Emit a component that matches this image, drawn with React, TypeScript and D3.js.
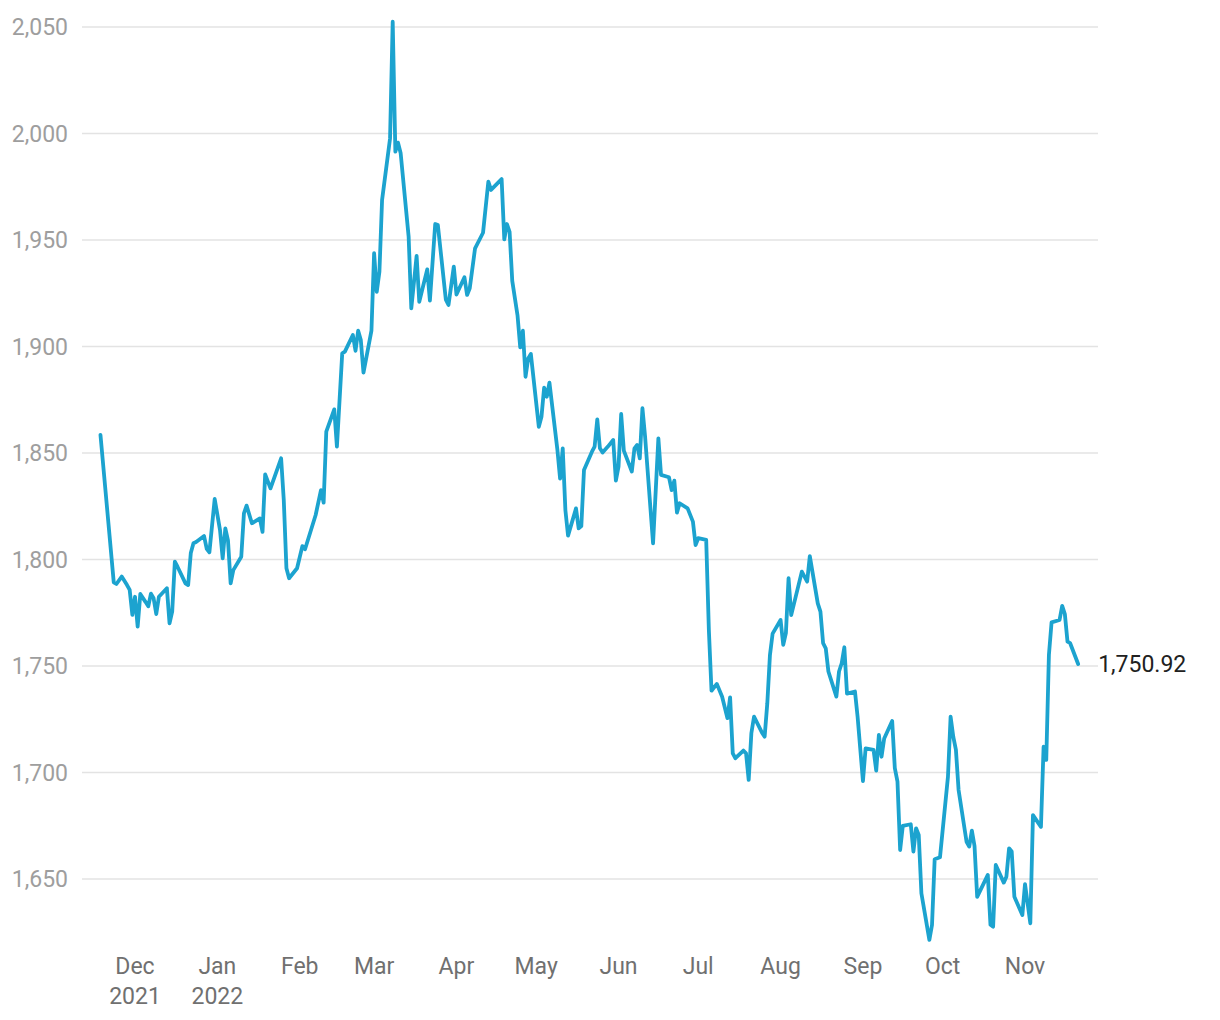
import React from 'react';
import * as d3 from 'd3';

// daily gold price
const late2021: [string, number][] = [
  ['2021-11-18', 1858.5], ['2021-11-23', 1789.3], ['2021-11-24', 1788.5], ['2021-11-26', 1792],
  ['2021-11-28', 1788], ['2021-11-29', 1785.7], ['2021-11-30', 1774], ['2021-12-01', 1782.5],
  ['2021-12-02', 1768.5], ['2021-12-03', 1783.8], ['2021-12-05', 1780], ['2021-12-06', 1778],
  ['2021-12-07', 1784], ['2021-12-08', 1781.8], ['2021-12-09', 1774.4], ['2021-12-10', 1782.5],
  ['2021-12-13', 1786.5], ['2021-12-14', 1770], ['2021-12-15', 1775.5], ['2021-12-16', 1799],
  ['2021-12-17', 1796.6], ['2021-12-20', 1788.8], ['2021-12-21', 1788], ['2021-12-22', 1803],
  ['2021-12-23', 1807.6], ['2021-12-24', 1808.2], ['2021-12-27', 1811], ['2021-12-28', 1805],
  ['2021-12-29', 1803.4], ['2021-12-31', 1828.4],
];

const q1_2022: [string, number][] = [
  ['2022-01-02', 1813.8], ['2022-01-03', 1800.5], ['2022-01-04', 1814.6], ['2022-01-05', 1809],
  ['2022-01-06', 1788.8], ['2022-01-07', 1795], ['2022-01-10', 1801.3], ['2022-01-11', 1821.7],
  ['2022-01-12', 1825.3], ['2022-01-14', 1817], ['2022-01-17', 1819.3], ['2022-01-18', 1813],
  ['2022-01-19', 1840], ['2022-01-21', 1833.4], ['2022-01-25', 1847.5], ['2022-01-26', 1827.9],
  ['2022-01-27', 1795.9], ['2022-01-28', 1791.2], ['2022-01-31', 1795.9], ['2022-02-02', 1806.3],
  ['2022-02-03', 1804.8], ['2022-02-07', 1820.9], ['2022-02-09', 1832.6], ['2022-02-10', 1826.7],
  ['2022-02-11', 1860], ['2022-02-14', 1870.5], ['2022-02-15', 1853], ['2022-02-17', 1896.8],
  ['2022-02-18', 1897.6], ['2022-02-21', 1905.4], ['2022-02-22', 1898], ['2022-02-23', 1907.4],
  ['2022-02-24', 1903], ['2022-02-25', 1887.7], ['2022-02-28', 1907.5], ['2022-03-01', 1943.8],
  ['2022-03-02', 1925.7], ['2022-03-03', 1935.1], ['2022-03-04', 1968.8], ['2022-03-07', 1997.7],
  ['2022-03-08', 2052.5], ['2022-03-09', 1991.5], ['2022-03-10', 1995.7], ['2022-03-11', 1990.7],
  ['2022-03-14', 1951.5], ['2022-03-15', 1917.9], ['2022-03-17', 1942.5], ['2022-03-18', 1921],
  ['2022-03-21', 1936.2], ['2022-03-22', 1921.5], ['2022-03-24', 1957.5], ['2022-03-25', 1957],
  ['2022-03-28', 1922], ['2022-03-29', 1919.5], ['2022-03-31', 1937.5],
];

const q2_2022: [string, number][] = [
  ['2022-04-01', 1924.4], ['2022-04-04', 1932.5], ['2022-04-05', 1924.2], ['2022-04-06', 1927.3],
  ['2022-04-08', 1946.1], ['2022-04-11', 1953.4], ['2022-04-13', 1977.4], ['2022-04-14', 1973.5],
  ['2022-04-18', 1978.6], ['2022-04-19', 1950.3], ['2022-04-20', 1957.5], ['2022-04-21', 1953.8],
  ['2022-04-22', 1930.8], ['2022-04-24', 1914.4], ['2022-04-25', 1899.6], ['2022-04-26', 1907.4],
  ['2022-04-27', 1885.8], ['2022-04-28', 1894.4], ['2022-04-29', 1896.5], ['2022-05-02', 1862.3],
  ['2022-05-03', 1867], ['2022-05-04', 1880.7], ['2022-05-05', 1876.4], ['2022-05-06', 1883],
  ['2022-05-09', 1851.4], ['2022-05-10', 1838], ['2022-05-11', 1852.2], ['2022-05-12', 1823.2],
  ['2022-05-13', 1811.2], ['2022-05-16', 1824], ['2022-05-17', 1814.6], ['2022-05-18', 1815.7],
  ['2022-05-19', 1842], ['2022-05-22', 1850.6], ['2022-05-23', 1853], ['2022-05-24', 1865.8],
  ['2022-05-25', 1852.2], ['2022-05-26', 1850.2], ['2022-05-28', 1853], ['2022-05-30', 1856.1],
  ['2022-05-31', 1837], ['2022-06-01', 1843.6], ['2022-06-02', 1868.3], ['2022-06-03', 1851.1],
  ['2022-06-06', 1841.3], ['2022-06-07', 1852.2], ['2022-06-08', 1853.8], ['2022-06-09', 1847.5],
  ['2022-06-10', 1871], ['2022-06-11', 1857.7], ['2022-06-14', 1807.6], ['2022-06-16', 1856.9],
  ['2022-06-17', 1839.7], ['2022-06-20', 1838.6], ['2022-06-21', 1832.6], ['2022-06-22', 1837],
  ['2022-06-23', 1822], ['2022-06-24', 1826.4], ['2022-06-27', 1824], ['2022-06-29', 1817.8],
  ['2022-06-30', 1806.8],
];

const q3_2022: [string, number][] = [
  ['2022-07-01', 1810], ['2022-07-04', 1809.2], ['2022-07-05', 1767], ['2022-07-06', 1738.4],
  ['2022-07-08', 1741.6], ['2022-07-10', 1735.6], ['2022-07-12', 1725.5], ['2022-07-13', 1735.3],
  ['2022-07-14', 1709], ['2022-07-15', 1706.7], ['2022-07-18', 1710.3], ['2022-07-19', 1709],
  ['2022-07-20', 1696.5], ['2022-07-21', 1718.4], ['2022-07-22', 1726.2], ['2022-07-25', 1718.7],
  ['2022-07-26', 1716.8], ['2022-07-27', 1732.5], ['2022-07-28', 1755.2], ['2022-07-29', 1765.2],
  ['2022-08-01', 1771.6], ['2022-08-02', 1759.9], ['2022-08-03', 1765.4], ['2022-08-04', 1791.2],
  ['2022-08-05', 1773.9], ['2022-08-09', 1794.3], ['2022-08-11', 1789.6], ['2022-08-12', 1801.6],
  ['2022-08-15', 1779.4], ['2022-08-16', 1775.5], ['2022-08-17', 1760.7], ['2022-08-18', 1758.3],
  ['2022-08-19', 1747.4], ['2022-08-22', 1735.6], ['2022-08-23', 1747.4], ['2022-08-24', 1751.3],
  ['2022-08-25', 1758.8], ['2022-08-26', 1737], ['2022-08-29', 1738], ['2022-08-30', 1726],
  ['2022-09-01', 1696], ['2022-09-02', 1711.3], ['2022-09-05', 1710.6], ['2022-09-06', 1700.9],
  ['2022-09-07', 1717.6], ['2022-09-08', 1707.4], ['2022-09-09', 1716], ['2022-09-12', 1724.2],
  ['2022-09-13', 1702], ['2022-09-14', 1695.7], ['2022-09-15', 1663.6], ['2022-09-16', 1674.9],
  ['2022-09-19', 1675.7], ['2022-09-20', 1662.9], ['2022-09-21', 1673.8], ['2022-09-22', 1670.7],
  ['2022-09-23', 1643.3], ['2022-09-26', 1621.4], ['2022-09-27', 1628.4], ['2022-09-28', 1659.3],
  ['2022-09-30', 1660.2],
];

const q4_2022: [string, number][] = [
  ['2022-10-03', 1698], ['2022-10-04', 1726.2], ['2022-10-05', 1716.8], ['2022-10-06', 1710.6],
  ['2022-10-07', 1691.8], ['2022-10-10', 1667.5], ['2022-10-11', 1665.2], ['2022-10-12', 1672.7],
  ['2022-10-13', 1665.5], ['2022-10-14', 1641.6], ['2022-10-18', 1651.9], ['2022-10-19', 1628.5],
  ['2022-10-20', 1627.6], ['2022-10-21', 1656.6], ['2022-10-24', 1648.3], ['2022-10-25', 1651.1],
  ['2022-10-26', 1664.4], ['2022-10-27', 1662.9], ['2022-10-28', 1641.7], ['2022-10-31', 1633.1],
  ['2022-11-01', 1647.6], ['2022-11-03', 1629.2], ['2022-11-04', 1680], ['2022-11-07', 1674.5],
  ['2022-11-08', 1712.1], ['2022-11-09', 1705.9], ['2022-11-10', 1755.2], ['2022-11-11', 1770.5],
  ['2022-11-14', 1771.6], ['2022-11-15', 1778.2], ['2022-11-16', 1774.4], ['2022-11-17', 1761.4],
  ['2022-11-18', 1760.7], ['2022-11-21', 1750.92],
];

const yTicks = [1650, 1700, 1750, 1800, 1850, 1900, 1950, 2000, 2050];

const monthTicks: [string, string, string][] = [
  ['2021-12-01', 'Dec', '2021'], ['2022-01-01', 'Jan', '2022'], ['2022-02-01', 'Feb', ''],
  ['2022-03-01', 'Mar', ''], ['2022-04-01', 'Apr', ''], ['2022-05-01', 'May', ''],
  ['2022-06-01', 'Jun', ''], ['2022-07-01', 'Jul', ''], ['2022-08-01', 'Aug', ''],
  ['2022-09-01', 'Sep', ''], ['2022-10-01', 'Oct', ''], ['2022-11-01', 'Nov', ''],
];

const parse = d3.utcParse('%Y-%m-%d');

export default function App() {
  const width = 1220;
  const height = 1020;
  const gridLeft = 82;
  const gridRight = 1098;

  const series = [...late2021, ...q1_2022, ...q2_2022, ...q3_2022, ...q4_2022]
    .map(([d, v]) => ({ date: parse(d)!, value: v }));

  const x = d3.scaleUtc()
    .domain([parse('2021-12-01')!, parse('2022-11-01')!])
    .range([135, 1025]);

  const y = d3.scaleLinear()
    .domain([1650, 2050])
    .range([879, 27]);

  const line = d3.line<{ date: Date; value: number }>()
    .x(d => x(d.date))
    .y(d => y(d.value))
    .curve(d3.curveLinear);

  const last = series[series.length - 1];
  const fmt = d3.format(',');

  return (
    <svg
      width={width}
      height={height}
      style={{ position: 'absolute', left: 0, top: 0, fontFamily: 'Roboto, sans-serif' }}
    >
      <rect width={width} height={height} fill="#ffffff" />
      {yTicks.map(t => (
        <g key={t}>
          <line x1={gridLeft} x2={gridRight} y1={y(t)} y2={y(t)} stroke="#e3e3e3" strokeWidth={1.5} />
          <text x={68} y={y(t)} dy="0.36em" textAnchor="end" fontSize={23} fill="#9e9e9e">
            {fmt(t)}
          </text>
        </g>
      ))}
      {monthTicks.map(([d, m, yr]) => (
        <g key={d}>
          <text x={x(parse(d)!)} y={974} textAnchor="middle" fontSize={23} fill="#707070">{m}</text>
          {yr && (
            <text x={x(parse(d)!)} y={1004} textAnchor="middle" fontSize={23} fill="#707070">{yr}</text>
          )}
        </g>
      ))}
      <path
        d={line(series) ?? ''}
        fill="none"
        stroke="#1ca3cf"
        strokeWidth={3.8}
        strokeLinejoin="round"
        strokeLinecap="round"
      />
      <text x={x(last.date) + 20} y={y(last.value)} dy="0.36em" fontSize={23} fill="#212121">
        {d3.format(',.2f')(last.value)}
      </text>
    </svg>
  );
}
